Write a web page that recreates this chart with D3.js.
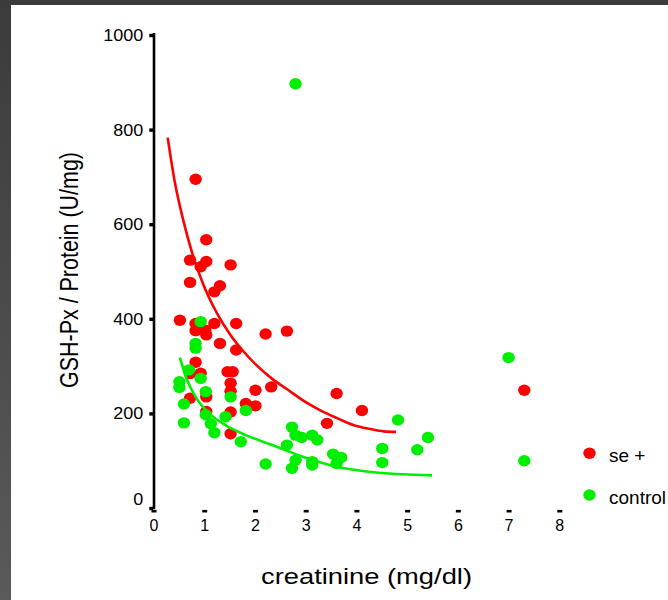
<!DOCTYPE html>
<html>
<head>
<meta charset="utf-8">
<script src="https://cdn.jsdelivr.net/npm/d3@7"></script>
<style>
  html, body { margin: 0; padding: 0; background: #fff; }
  svg { display: block; }
  text { font-family: "Liberation Sans", Arial, Helvetica, sans-serif; fill: #000; }
</style>
</head>
<body>
<svg id="chart" width="668" height="600"></svg>
<script>
// GSH-Px activity against serum creatinine, two groups

// se + group
const seCreatinine = [0.83, 1.04, 0.72, 1.04, 0.93, 1.52, 0.72, 1.31, 1.20, 0.52,
  0.83, 1.20, 1.63, 1.02, 0.83, 1.04, 2.21, 2.63, 1.31, 1.63,
  0.83, 0.72, 0.93, 1.46, 1.56, 1.52, 1.52, 2.01, 2.32, 0.72,
  1.04, 3.61, 4.11, 1.82, 2.01, 1.04, 1.52, 1.52, 3.42, 7.31];
const seGshPx = [695, 567, 524, 521, 510, 514, 477, 470, 457, 397,
  390, 390, 390, 376, 375, 366, 368, 374, 348, 334,
  308, 284, 285, 288, 288, 264, 247, 249, 256, 232,
  235, 242, 206, 221, 216, 204, 203, 157, 179, 249];

// control group
const controlCreatinine = [2.80, 0.93, 0.83, 0.83, 0.70, 0.93, 0.51, 0.51, 1.03, 1.52,
  0.60, 1.82, 1.03, 1.42, 1.13, 0.60, 1.20, 1.72, 2.73, 2.80,
  2.92, 3.13, 3.23, 2.63, 2.21, 2.80, 2.73, 3.13, 3.13, 3.54,
  3.70, 3.61, 4.51, 4.51, 4.82, 5.20, 5.41, 7.00, 7.31];
const controlGshPx = [897, 394, 348, 338, 292, 274, 267, 255, 246, 235,
  220, 206, 197, 193, 178, 180, 159, 140, 171, 154,
  149, 154, 144, 133, 93, 101, 84, 98, 91, 114,
  107, 94, 126, 96, 186, 123, 149, 318, 100];

// fitted decay curves
const fitSeX = [0.28, 0.42, 0.59, 0.76, 0.98, 1.25, 1.51, 1.75, 2.02, 2.34, 2.65, 2.97, 3.28, 3.62, 3.95, 4.27, 4.54, 4.78];
const fitSeY = [783, 689, 607, 540, 473, 412, 367, 334, 303, 273, 250, 226, 207, 190, 175, 167, 162, 161];
const fitControlX = [0.52, 0.64, 0.83, 1.10, 1.42, 1.82, 2.34, 2.96, 3.62, 4.28, 5.49];
const fitControlY = [318, 277, 235, 200, 175, 154, 133, 108, 87, 76, 69];

const xTicks = [0, 1, 2, 3, 4, 5, 6, 7, 8];
const yTicks = [0, 200, 400, 600, 800, 1000];

const groupNames = ["se +", "control"];
const groupColors = ["#ff0000", "#00ee00"];

const svg = d3.select("#chart");

// frame strips
const grad = svg.append("defs").append("linearGradient")
  .attr("id", "frameShade").attr("x1", 0).attr("y1", 0).attr("x2", 0).attr("y2", 1);
grad.append("stop").attr("offset", "0%").attr("stop-color", "#3b3b3b");
grad.append("stop").attr("offset", "100%").attr("stop-color", "#5a5a5a");
svg.append("rect").attr("x", 0).attr("y", 0).attr("width", 668).attr("height", 600).attr("fill", "#fff");
svg.append("rect").attr("x", 0).attr("y", 0).attr("width", 11).attr("height", 600).attr("fill", "url(#frameShade)");
svg.append("rect").attr("x", 0).attr("y", 0).attr("width", 668).attr("height", 5).attr("fill", "#3b3b3b");

const x = d3.scaleLinear().domain([0, 8]).range([153.5, 559.3]);
const y = d3.scaleLinear().domain([0, 1000]).range([508, 35]);

// y axis
const yAxis = svg.append("g")
  .attr("transform", "translate(154,0)")
  .call(d3.axisLeft(y).tickValues(yTicks).tickFormat(d3.format("d"))
    .tickSize(4.7).tickSizeOuter(0).tickPadding(10));
yAxis.select(".domain").attr("stroke", "#000").attr("stroke-width", 2.6)
  .attr("d", `M0,${y(1000) - 2}V${y(0) + 1.3}`);
yAxis.selectAll(".tick line").attr("stroke", "#000").attr("stroke-width", 3.4).attr("x1", -1);
yAxis.selectAll(".tick text")
  .attr("font-size", 16)
  .attr("x", -10.7)
  .attr("dy", null)
  .attr("y", d => d === 0 ? -4 : 5.5)
  .attr("textLength", d => String(d).length * 10)
  .attr("lengthAdjust", "spacingAndGlyphs");

// x axis
const xAxis = svg.append("g")
  .attr("transform", "translate(0,508.3)")
  .call(d3.axisBottom(x).tickValues(xTicks).tickFormat(d3.format("d"))
    .tickSize(4.2).tickSizeOuter(0).tickPadding(10));
xAxis.select(".domain").attr("stroke", "#000").attr("stroke-width", 2.2)
  .attr("d", `M${x(0) - 1}V0H${x(8) + 1}`);
xAxis.selectAll(".tick line").attr("stroke", "#000").attr("stroke-width", 5).attr("y1", 1.6);
xAxis.selectAll(".tick text")
  .attr("font-size", 16)
  .attr("dy", null)
  .attr("y", 22.7);

// data points
const dotRx = 6.2, dotRy = 5.7;
const seRows = d3.zip(seCreatinine, seGshPx);
const controlRows = d3.zip(controlCreatinine, controlGshPx);

svg.append("g").selectAll("ellipse").data(seRows).join("ellipse")
  .attr("cx", d => x(d[0])).attr("cy", d => y(d[1]))
  .attr("rx", dotRx).attr("ry", dotRy)
  .attr("fill", groupColors[0]);

svg.append("g").selectAll("ellipse").data(controlRows).join("ellipse")
  .attr("cx", d => x(d[0])).attr("cy", d => y(d[1]))
  .attr("rx", dotRx).attr("ry", dotRy)
  .attr("fill", groupColors[1]);

// fitted curves
const curve = d3.line().x(d => x(d[0])).y(d => y(d[1])).curve(d3.curveMonotoneX);
svg.append("path").datum(d3.zip(fitSeX, fitSeY))
  .attr("d", curve).attr("fill", "none").attr("stroke", groupColors[0]).attr("stroke-width", 2.6);
svg.append("path").datum(d3.zip(fitControlX, fitControlY))
  .attr("d", curve).attr("fill", "none").attr("stroke", groupColors[1]).attr("stroke-width", 2.6);

// legend
const legend = svg.append("g");
const legendY = [453.3, 495];
groupNames.forEach((name, i) => {
  legend.append("ellipse")
    .attr("cx", 589.5).attr("cy", legendY[i])
    .attr("rx", dotRx).attr("ry", dotRy)
    .attr("fill", groupColors[i]);
  legend.append("text")
    .attr("x", 609).attr("y", legendY[i] + 9)
    .attr("font-size", 19)
    .text(name);
});

// axis titles
svg.append("text")
  .attr("transform", "translate(77.5,270) scale(1.2,1) rotate(-90)")
  .attr("text-anchor", "middle")
  .attr("font-size", 21.5)
  .attr("textLength", 236)
  .attr("lengthAdjust", "spacingAndGlyphs")
  .text("GSH-Px / Protein (U/mg)");

svg.append("text")
  .attr("x", 261).attr("y", 584)
  .attr("font-size", 22)
  .attr("textLength", 211)
  .attr("lengthAdjust", "spacingAndGlyphs")
  .text("creatinine (mg/dl)");
</script>
</body>
</html>
